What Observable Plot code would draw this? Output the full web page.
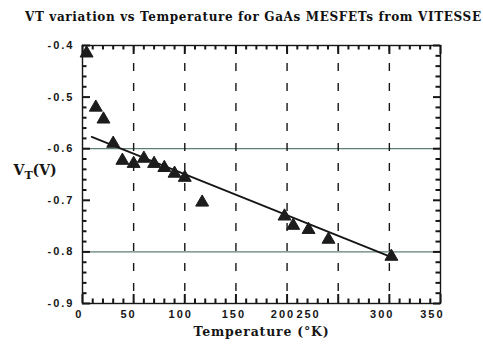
<!DOCTYPE html>
<html><head><meta charset="utf-8">
<script src="https://cdn.jsdelivr.net/npm/d3@7"></script>
<script src="https://cdn.jsdelivr.net/npm/@observablehq/plot@0.6"></script>
<style>
html,body{margin:0;background:#fff}
body{width:483px;height:350px;overflow:hidden}
#title{height:26px;box-sizing:border-box;padding:10px 0 0 25px;font-family:"DejaVu Serif";font-weight:bold;font-size:12px;line-height:14px;color:#111;white-space:nowrap;letter-spacing:0.64px}
#chart svg{display:block}
#chart svg text{letter-spacing:2px}
</style></head><body>
<div id="title"></div>
<div id="chart"></div>
<script>
const title = "VT variation vs Temperature for GaAs MESFETs from VITESSE";
const xLabel = "Temperature (°K)";
const yLabel = "VT(V)";

// measured points
const temperatureK = [4, 13, 20.5, 30, 39, 50, 60, 70, 80, 90, 100, 117, 197.5, 206, 221, 240.5, 302];
const thresholdV = [-0.415, -0.52, -0.543, -0.59, -0.623, -0.629, -0.619, -0.629, -0.637, -0.648, -0.656, -0.704, -0.731, -0.749, -0.757, -0.776, -0.809];

// linear fit line end points
const fitTemperature = [9, 302];
const fitThreshold = [-0.577, -0.81];

// axes
const xDomain = [0, 350];
const yDomain = [-0.9, -0.4];
const xTickValues = [0, 50, 100, 150, 200, 250, 300, 350];
const xTickLabels = ["0", "50", "100", "150", "200", "250", "300", "350"];
const xTickLabelAt = [-3, 45, 96, 148, 196, 221, 293, 342];
const xMinorTicks = [10,20,30,40,60,70,80,90,110,120,130,140,160,170,180,190,210,220,230,240,260,270,280,290,310,320,330,340];
const yTickValues = [-0.4, -0.5, -0.6, -0.7, -0.8, -0.9];
const yTickLabels = ["-0.4", "-0.5", "-0.6", "-0.7", "-0.8", "-0.9"];
const yMinorTicks = [-0.42,-0.44,-0.46,-0.48,-0.52,-0.54,-0.56,-0.58,-0.62,-0.64,-0.66,-0.68,-0.72,-0.74,-0.76,-0.78,-0.82,-0.84,-0.86,-0.88];
const verticalGrid = [50, 100, 150, 200, 250, 300];
const referenceLevels = [-0.6, -0.8];

document.getElementById("title").textContent = title;

const points = temperatureK.map((t, i) => ({t, v: thresholdV[i]}));
const fit = fitTemperature.map((t, i) => ({t, v: fitThreshold[i]}));
const ink = "#161616";

const W = 483, H = 324, mT = 19, mB = 47, mL = 82, mR = 43;
const frameH = H - mT - mB, frameW = W - mL - mR;
// convert a tick length in pixels into data units of each axis
const pxX = (xDomain[1] - xDomain[0]) / frameW;
const pxY = (yDomain[1] - yDomain[0]) / frameH;
const tickStyle = {stroke: ink, strokeWidth: 2};

const xTicksAt = (values, lenPx, side) => Plot.ruleX(values, {
  x: d => d,
  y1: () => side === "bottom" ? yDomain[0] : yDomain[1],
  y2: () => side === "bottom" ? yDomain[0] + lenPx * pxY : yDomain[1] - lenPx * pxY,
  ...tickStyle
});
const yTicksAt = (values, lenPx, side) => Plot.ruleY(values, {
  y: d => d,
  x1: () => side === "left" ? xDomain[0] : xDomain[1],
  x2: () => side === "left" ? xDomain[0] + lenPx * pxX : xDomain[1] - lenPx * pxX,
  ...tickStyle
});

const plot = Plot.plot({
  width: W,
  height: H,
  marginTop: mT,
  marginBottom: mB,
  marginLeft: mL,
  marginRight: mR,
  x: {domain: xDomain, label: null},
  y: {domain: yDomain, label: null},
  axis: null,
  style: {fontFamily: "Liberation Sans", fontSize: "11px", color: ink, background: "#fff"},
  marks: [
    Plot.ruleY(referenceLevels, {stroke: "#5f7f72", strokeWidth: 1.3}),
    Plot.ruleX(verticalGrid, {stroke: ink, strokeWidth: 1.4, strokeDasharray: "8,12", strokeDashoffset: 2}),
    xTicksAt(xMinorTicks, 4.5, "bottom"),
    xTicksAt(xTickValues, 9, "bottom"),
    xTicksAt(xMinorTicks, 4.5, "top"),
    xTicksAt(xTickValues, 9, "top"),
    yTicksAt(yMinorTicks, 4.5, "left"),
    yTicksAt(yTickValues, 8, "left"),
    yTicksAt(yMinorTicks, 4.5, "right"),
    yTicksAt(yTickValues, 7, "right"),
    Plot.axisY(yTickValues, {anchor: "left", tickSize: 0, tickPadding: 8, tickFormat: (d) => yTickLabels[yTickValues.indexOf(d)], fontWeight: "bold", fill: ink, label: null}),
    Plot.frame({stroke: ink, strokeWidth: 1.4}),
    Plot.line(fit, {x: "t", y: "v", stroke: ink, strokeWidth: 1.8}),
    Plot.dot(points, {x: "t", y: "v", symbol: "triangle", r: 4.8, fill: "#1c1c1c", stroke: "#1c1c1c", strokeWidth: 1}),
    Plot.text(xTickLabels, {x: (d, i) => xTickLabelAt[i], text: d => d, frameAnchor: "bottom", dy: 14, fontWeight: "bold", fill: ink}),
    Plot.text([xLabel], {text: d => d, frameAnchor: "bottom", dy: 32, fontFamily: "DejaVu Serif", fontWeight: "bold", fontSize: 12.5, fill: ink}),
    Plot.text([yLabel], {text: d => d, frameAnchor: "left", dx: -69, dy: -4, textAnchor: "start", fontFamily: "DejaVu Serif", fontWeight: "bold", fontSize: 14, fill: ink})
  ]
});

document.getElementById("chart").appendChild(plot);

// axis titles: own spacing; subscript T in V_T(V)
d3.select(plot).selectAll("text").filter(function () { return this.textContent === xLabel; })
  .style("letter-spacing", "0.8px");
d3.select(plot).selectAll("text").filter(function () { return this.textContent === yLabel; })
  .each(function () {
    const t = d3.select(this).style("letter-spacing", "0px");
    t.text(null);
    t.append("tspan").text("V");
    t.append("tspan").attr("dy", 4).attr("font-size", 11).text("T");
    t.append("tspan").attr("dy", -4).text("(V)");
  });
</script>
</body></html>
